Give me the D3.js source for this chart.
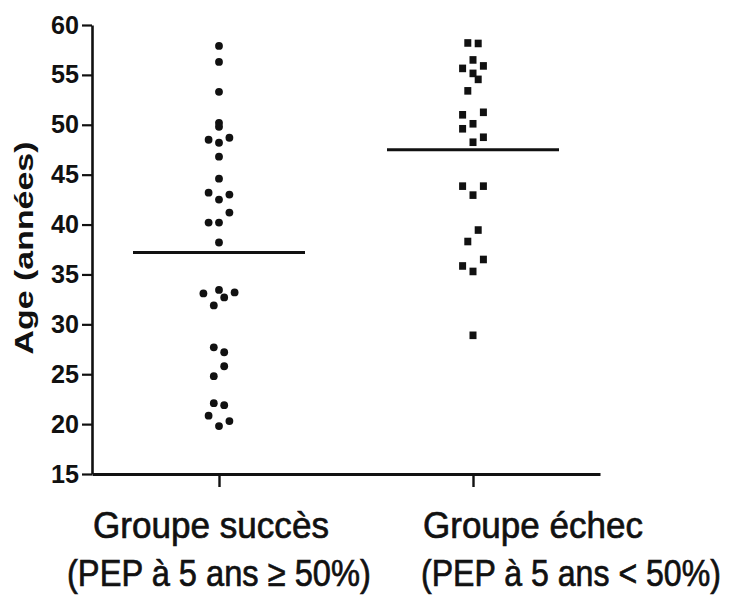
<!DOCTYPE html>
<html>
<head>
<meta charset="utf-8">
<script src="https://cdn.jsdelivr.net/npm/d3@7"></script>
<style>
  html, body { margin: 0; padding: 0; background: #fff; }
  svg { display: block; font-family: "Liberation Sans", Arial, sans-serif; }
</style>
</head>
<body>
<svg id="chart" width="731" height="604"></svg>
<script>
// ---- data ----
const categories = ["succes", "echec"];
const labelLine1 = ["Groupe succès", "Groupe échec"];
const labelLine2 = ["(PEP à 5 ans ≥ 50%)", "(PEP à 5 ans < 50%)"];

const successAges = [57.9, 56.3, 53.3, 50.2, 49.8, 48.5, 48.7, 48.2, 46.8, 44.6,
  43.2, 43.0, 42.5, 41.2, 40.2, 40.2, 38.2, 33.1, 33.45, 32.7, 33.2, 31.9,
  27.7, 27.2, 25.8, 24.8, 22.1, 21.9, 20.85, 20.3, 19.8];
const successColumn = [0, 0, 0, 0, 0, -2, 2, 0, 0, 0,
  -2, 2, 0, 2, -2, 0, 0, -3, 0, 1, 3, -1,
  -1, 1, 1, -1, -1, 1, -2, 2, 0];

const failureAges = [58.2, 58.15, 56.5, 55.65, 55.9, 55.15, 54.55, 53.4, 51.0, 51.25,
  50.1, 49.6, 48.75, 48.25, 43.85, 43.85, 42.95, 39.45, 38.3, 36.5, 35.85, 35.3, 28.9];
const failureColumn = [-1, 1, 0, -2, 2, 0, 1, -1, -2, 2,
  0, -2, 2, 0, -2, 2, 0, 1, -1, 2, -2, 0, 0];

const groupMeans = [37.2, 47.5];
const yTicks = [15, 20, 25, 30, 35, 40, 45, 50, 55, 60];
const yDomain = [15, 60];
const yTitle = "Age (années)";

// ---- scales ----
const svg = d3.select("#chart");
svg.append("rect").attr("width", 731).attr("height", 604).attr("fill", "#fff");

const x = d3.scalePoint().domain(categories).range([92, 600]).padding(0.5);
const y = d3.scaleLinear().domain(yDomain).range([474, 25]);
const jitter = d3.scaleLinear().domain([-1, 1]).range([-5.2, 5.2]);
const meanHalf = d3.scaleLinear().domain([0, 1]).range([0, 86]);

const ink = "#111";

// ---- axes ----
const yAxis = svg.append("g")
  .attr("transform", "translate(92,0)")
  .call(d3.axisLeft(y).tickValues(yTicks).tickSize(10).tickSizeOuter(0).tickPadding(3));
yAxis.select(".domain").attr("stroke", ink).attr("stroke-width", 2.6);
yAxis.selectAll(".tick line").attr("stroke", ink).attr("stroke-width", 2.2);
yAxis.selectAll(".tick text")
  .attr("fill", ink).attr("font-size", 25).attr("font-weight", "bold")
  .attr("textLength", 28).attr("lengthAdjust", "spacingAndGlyphs")
  .attr("font-family", "'Liberation Sans', Arial, sans-serif");

const xAxis = svg.append("g")
  .attr("transform", "translate(0,474)")
  .call(d3.axisBottom(x).tickSize(13).tickSizeOuter(0).tickFormat(""));
xAxis.select(".domain").attr("stroke", ink).attr("stroke-width", 3);
xAxis.selectAll(".tick line").attr("stroke", ink).attr("stroke-width", 2.4);

// y title
svg.append("text")
  .attr("transform", "translate(33,248) rotate(-90)")
  .attr("text-anchor", "middle")
  .attr("font-size", 26)
  .attr("font-weight", "bold")
  .attr("fill", ink)
  .attr("textLength", 213)
  .attr("lengthAdjust", "spacingAndGlyphs")
  .text(yTitle);

// x labels (horizontally condensed via scale transform)
const line1Offset = [-126, -50];
const line1Length = [236, 220];
const line2Offset = [-152, -52];
const line2Length = [304, 300];
function condensedText(tx, ty, str, len) {
  const t = svg.append("text")
    .attr("x", 0).attr("y", 0)
    .attr("font-size", 37).attr("fill", ink)
    .attr("stroke", ink).attr("stroke-width", 0.7)
    .text(str);
  const natural = t.node().getComputedTextLength();
  t.attr("transform", `translate(${tx},${ty}) scale(${len / natural},1)`);
}
categories.forEach((c, i) => {
  condensedText(x(c) + line1Offset[i], 538, labelLine1[i], line1Length[i]);
  condensedText(x(c) + line2Offset[i], 586, labelLine2[i], line2Length[i]);
});

// ---- mean lines ----
svg.selectAll("line.mean").data(groupMeans).enter().append("line")
  .attr("class", "mean")
  .attr("x1", (d, i) => x(categories[i]) - meanHalf(1))
  .attr("x2", (d, i) => x(categories[i]) + meanHalf(1))
  .attr("y1", d => y(d)).attr("y2", d => y(d))
  .attr("stroke", ink).attr("stroke-width", 3);

// ---- points ----
const successData = successAges.map((v, i) => ({ v, c: successColumn[i] }));
const failureData = failureAges.map((v, i) => ({ v, c: failureColumn[i] }));

svg.append("g").selectAll("circle").data(successData).enter().append("circle")
  .attr("cx", d => x(categories[0]) + jitter(d.c))
  .attr("cy", d => y(d.v))
  .attr("r", 3.9)
  .attr("fill", ink);

svg.append("g").selectAll("rect").data(failureData).enter().append("rect")
  .attr("x", d => x(categories[1]) + jitter(d.c) - 3.5)
  .attr("y", d => y(d.v) - 3.8)
  .attr("width", 7).attr("height", 7.6)
  .attr("fill", ink);
</script>
</body>
</html>
